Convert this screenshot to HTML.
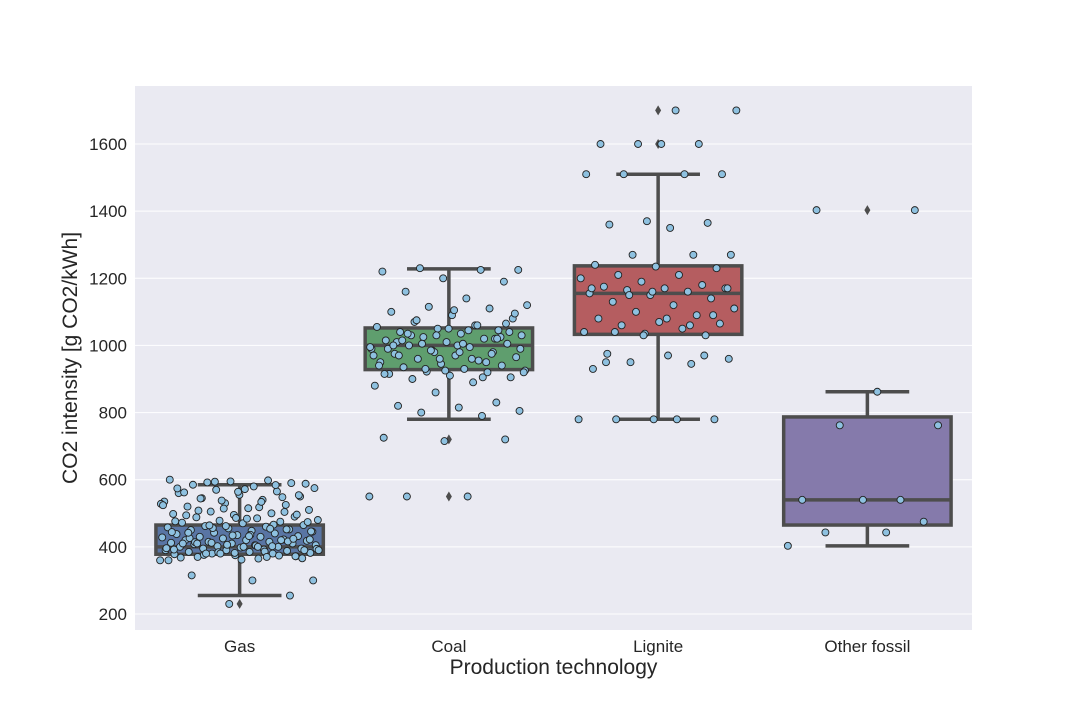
<!DOCTYPE html>
<html><head><meta charset="utf-8"><style>
body{margin:0;background:#fff}
svg text{font-family:"Liberation Sans",Arial,sans-serif;fill:#262626}
</style></head><body>
<svg id="c" width="1080" height="720" xmlns="http://www.w3.org/2000/svg"></svg>
<script>
const categories=["Gas","Coal","Lignite","Other fossil"];
const boxColors=["#5975a4","#5f9e6e","#b55d60","#857aab"];
const whiskLow=[255,780,780,403];
const q1=[378,928,1033,465];
const medians=[400,1000,1155,540];
const q3=[465,1052,1237,787];
const whiskHigh=[585,1228,1510,862];
const outliers=[[230],[720,550],[1600,1700],[1403]];
const yTicks=[200,400,600,800,1000,1200,1400,1600];
const gasPts=[360,365,370,372,375,378,380,380,382,385,385,388,390,390,392,395,395,398,400,400,402,405,405,408,410,410,412,415,415,418,420,420,422,425,428,430,430,432,435,438,440,442,445,448,450,452,455,458,460,462,465,470,472,475,478,480,485,488,490,495,498,500,505,510,515,520,525,530,535,540,545,550,555,560,565,570,575,580,585,590,595,600,598,592,588,572,562,548,538,528,518,508,496,486,476,466,456,446,436,426,416,406,396,386,376,366,362,368,374,384,394,404,414,424,434,444,454,464,474,484,494,504,514,524,534,544,554,564,574,584,594,300,300,315,255,230,360,370,380,390,400,410,420,380,390,400,410,372,382,392,402,412,422,432,442,452,462];
const coalPts=[550,550,550,720,715,725,790,800,805,815,820,830,860,880,890,900,905,910,915,920,922,925,930,935,940,945,950,955,960,965,970,975,980,985,990,995,1000,1005,1010,1015,1020,1025,1030,1035,1040,1045,1050,1055,1060,1070,1080,1090,1100,1110,1115,1120,1140,1160,1190,1200,1220,1225,1230,1225,1000,1010,1020,980,970,960,1030,1040,1050,990,950,930,920,1005,1015,1025,960,940,1060,1075,1095,1105,1000,975,985,995,1045,1035,1065,925,915,905,1005,990,980,970,1020,1030];
const lignitePts=[780,780,780,780,780,930,945,950,960,970,975,1030,1035,1040,1050,1060,1065,1070,1080,1090,1100,1110,1120,1130,1140,1150,1155,1160,1165,1170,1170,1175,1180,1190,1200,1210,1210,1230,1235,1240,1270,1270,1270,1350,1360,1365,1370,1510,1510,1510,1510,1600,1600,1600,1600,1700,1700,1040,1090,1160,1170,1060,1150,1170,1080,950,970,1030];
const otherPts=[403,443,443,475,540,540,540,762,762,862,1403,1403];
const allPts=[gasPts,coalPts,lignitePts,otherPts];
const svg=document.getElementById('c');const NS="http://www.w3.org/2000/svg";
const L=135,R=972,T=86,B=630;
const y=v=>614-(v-200)*(470/1400);
const xc=i=>L+(R-L)/4*(i+0.5);
const bw=(R-L)/4*0.8;
function mk(t,a,p){const e=document.createElementNS(NS,t);for(const k in a)e.setAttribute(k,a[k]);(p||svg).appendChild(e);return e;}
const bg=mk('rect',{x:L,y:T,width:R-L,height:B-T,fill:'#eaeaf2'});


yTicks.forEach(t=>{
 const g=mk('line',{x1:L,x2:R,y1:y(t),y2:y(t),stroke:'#fff','stroke-width':1});
 
 
 const tx=mk('text',{x:L-8,y:y(t)+6,'text-anchor':'end','font-size':17});tx.textContent=t;
 
 
});
categories.forEach((c,i)=>{
 const g=mk('g',{});
 
 
 const cx=xc(i),st='#4d4d4d',sw=3.5;
 mk('line',{x1:cx,x2:cx,y1:y(whiskLow[i]),y2:y(q1[i]),stroke:st,'stroke-width':sw},g);
 mk('line',{x1:cx,x2:cx,y1:y(q3[i]),y2:y(whiskHigh[i]),stroke:st,'stroke-width':sw},g);
 mk('line',{x1:cx-bw/4,x2:cx+bw/4,y1:y(whiskLow[i]),y2:y(whiskLow[i]),stroke:st,'stroke-width':sw},g);
 mk('line',{x1:cx-bw/4,x2:cx+bw/4,y1:y(whiskHigh[i]),y2:y(whiskHigh[i]),stroke:st,'stroke-width':sw},g);
 mk('rect',{x:cx-bw/2,y:y(q3[i]),width:bw,height:y(q1[i])-y(q3[i]),fill:boxColors[i],stroke:st,'stroke-width':sw},g);
 mk('line',{x1:cx-bw/2,x2:cx+bw/2,y1:y(medians[i]),y2:y(medians[i]),stroke:st,'stroke-width':sw},g);
 outliers[i].forEach(o=>{mk('path',{d:`M${cx},${y(o)-5}L${cx+3},${y(o)}L${cx},${y(o)+5}L${cx-3},${y(o)}Z`,fill:st},g);});
 allPts[i].forEach((v,k)=>{
  const j=(((k*0.618034)%1)-0.5)*2*0.4*(R-L)/4*0.95;
  const p=mk('circle',{cx:cx+j,cy:y(v),r:3.5,fill:'#8ec1e0',stroke:'#222','stroke-width':0.9});
  
  
 });
 const tx=mk('text',{x:cx,y:B+22,'text-anchor':'middle','font-size':17});tx.textContent=c;
 
 
});
const xl=mk('text',{x:(L+R)/2,y:674,'text-anchor':'middle','font-size':21});xl.textContent='Production technology';


const yl=mk('text',{x:0,y:0,'text-anchor':'middle','font-size':21,transform:`translate(77,${(T+B)/2}) rotate(-90)`});yl.textContent='CO2 intensity [g CO2/kWh]';


</script>
</body></html>
